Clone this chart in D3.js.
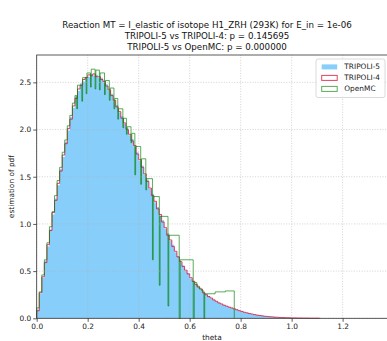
<!DOCTYPE html>
<html><head><meta charset="utf-8">
<script src="https://cdn.jsdelivr.net/npm/d3@7"></script>
<style>body{margin:0;background:#fff}svg{display:block;font-family:"DejaVu Sans",sans-serif}</style>
</head><body>
<script>
const titleLines = ["Reaction MT = I_elastic of isotope H1_ZRH (293K) for E_in = 1e-06",
  "TRIPOLI-5 vs TRIPOLI-4: p = 0.145695",
  "TRIPOLI-5 vs OpenMC: p = 0.000000"];
const seriesNames = ["TRIPOLI-5", "TRIPOLI-4", "OpenMC"];
const xTicks = [0.0, 0.2, 0.4, 0.6, 0.8, 1.0, 1.2];
const yTicks = [0.0, 0.5, 1.0, 1.5, 2.0, 2.5];
const binWidth = 0.01;
const t5Values = [0.09,0.26,0.43,0.61,0.76,0.94,1.10,1.27,1.41,1.58,1.71,1.87,1.99,2.13,2.23,2.35,2.41,2.49,2.51,2.56,
 2.56,2.59,2.57,2.58,2.55,2.55,2.50,2.48,2.41,2.38,2.30,2.26,2.18,2.14,2.06,2.02,1.94,1.90,1.82,1.76,
 1.67,1.62,1.52,1.47,1.37,1.32,1.23,1.18,1.09,1.04,0.95,0.90,0.82,0.78,0.70,0.66,0.59,0.56,0.50,0.48,
 0.42,0.40,0.36,0.33,0.30,0.28,0.25,0.235,0.21,0.197,0.178,0.166,0.150,0.141,0.128,0.121,0.109,0.101,0.090,0.082,
 0.072,0.065,0.057,0.051,0.044,0.040,0.034,0.031,0.026,0.023,0.020,0.017,0.015,0.013,0.011,0.009,0.008,0.007,0.006,0.005,
 0.004,0.004,0.003,0.003,0.002,0.002,0.002,0.001,0.001,0.001,0.001];
const t4Values = [0.08,0.27,0.44,0.59,0.78,0.93,1.12,1.25,1.43,1.56,1.73,1.85,2.01,2.11,2.25,2.33,2.43,2.47,2.53,2.55,
 2.58,2.57,2.59,2.56,2.56,2.53,2.51,2.46,2.42,2.36,2.31,2.24,2.19,2.12,2.07,2.00,1.95,1.88,1.83,1.74,
 1.68,1.60,1.53,1.45,1.38,1.30,1.24,1.16,1.10,1.02,0.96,0.88,0.83,0.76,0.71,0.65,0.60,0.55,0.51,0.47,
 0.43,0.39,0.36,0.33,0.31,0.27,0.25,0.23,0.215,0.195,0.18,0.163,0.152,0.139,0.129,0.119,0.110,0.100,0.091,0.081,
 0.073,0.064,0.058,0.050,0.045,0.039,0.034,0.030,0.026,0.022,0.020,0.017,0.015,0.012,0.011,0.009,0.008,0.007,0.006,0.005,
 0.004,0.004,0.003,0.003,0.002,0.002,0.002,0.001,0.001,0.001,0.001];
const openmcEdges = [0,0.01,0.02,0.03,0.04,0.05,0.06,0.07,0.08,0.09,0.10,0.11,0.12,0.13,0.14,
 0.150,0.157,0.160,0.177,0.180,0.194,0.197,0.211,0.214,0.229,0.232,0.246,0.249,0.266,0.269,0.285,0.288,0.303,0.306,0.318,
 0.321,0.338,0.341,0.352,0.355,0.370,0.373,0.385,0.388,0.408,0.411,0.428,0.431,0.454,0.457,0.481,0.484,0.515,0.518,0.559,
 0.563,0.614,0.618,0.628,0.638,0.648,0.656,0.659,0.700,0.740,0.775];
const openmcValues = [0.11,0.28,0.46,0.62,0.80,0.97,1.13,1.30,1.46,1.60,1.76,1.89,2.04,2.15,2.28,
 2.36,2.22,2.47,2.30,2.55,2.38,2.60,2.45,2.64,2.43,2.63,2.42,2.60,2.37,2.52,2.31,2.44,2.22,2.33,2.11,
 2.22,2.02,2.12,1.95,2.03,1.86,1.96,1.52,1.82,1.42,1.69,1.36,1.48,0.62,1.29,0.35,1.08,0.13,0.88,0.00,
 0.62,0.00,0.38,0.34,0.31,0.29,0.00,0.26,0.28,0.29];

const W = 387, H = 341;
const svg = d3.select("body").append("svg").attr("width", W).attr("height", H);
const x = d3.scaleLinear().domain([0, 1.378]).range([36.7, 388]);
const y = d3.scaleLinear().domain([0, 2.79]).range([318.3, 55]);

function stepPoints(edges, vals) {
  const pts = [[edges[0], 0]];
  vals.forEach((v, i) => pts.push([edges[i], v]));
  pts.push([edges[vals.length], 0]);
  return pts;
}
const uniformEdges = n => d3.range(n + 1).map(i => +(i * binWidth).toFixed(4));
const line = d3.line().x(d => x(d[0])).y(d => y(d[1])).curve(d3.curveStepAfter);
const area = d3.area().x(d => x(d[0])).y0(y(0)).y1(d => y(d[1])).curve(d3.curveStepAfter);

const plot = svg.append("g");
plot.append("path").datum(stepPoints(uniformEdges(t5Values.length), t5Values))
  .attr("d", area).attr("fill", "#87cefa");
plot.append("path").datum(stepPoints(uniformEdges(t4Values.length), t4Values))
  .attr("d", line).attr("fill", "none").attr("stroke", "#dc143c").attr("stroke-opacity", 0.8).attr("stroke-width", 1);
plot.append("path").datum(stepPoints(openmcEdges, openmcValues))
  .attr("d", line).attr("fill", "none").attr("stroke", "green").attr("stroke-opacity", 0.65).attr("stroke-width", 1);

// grid
const grid = svg.append("g").attr("stroke", "#b0b0b0").attr("stroke-width", 0.8).attr("stroke-dasharray", "1,1.6").attr("stroke-opacity", 0.7);
xTicks.forEach(t => grid.append("line").attr("x1", x(t)).attr("x2", x(t)).attr("y1", y.range()[0]).attr("y2", y.range()[1]));
yTicks.forEach(t => grid.append("line").attr("x1", x.range()[0]).attr("x2", x.range()[1]).attr("y1", y(t)).attr("y2", y(t)));

// axes
const xAxis = svg.append("g").attr("transform", `translate(0,${y(0)})`)
  .call(d3.axisBottom(x).tickValues(xTicks).tickFormat(d3.format(".1f")).tickSize(3.5).tickPadding(2));
const yAxis = svg.append("g").attr("transform", `translate(${x(0)},0)`)
  .call(d3.axisLeft(y).tickValues(yTicks).tickFormat(d3.format(".1f")).tickSize(3.5).tickPadding(2));
[xAxis, yAxis].forEach(a => {
  a.select(".domain").remove();
  a.selectAll("text").attr("font-size", 7.4).attr("font-family", "DejaVu Sans").attr("fill", "#222");
  a.selectAll("line").attr("stroke", "#333").attr("stroke-width", 0.8);
});
// spines
svg.append("rect").attr("x", x.range()[0]).attr("y", y.range()[1])
  .attr("width", x.range()[1] - x.range()[0]).attr("height", y.range()[0] - y.range()[1])
  .attr("fill", "none").attr("stroke", "#333").attr("stroke-width", 0.8);

// titles
const tt = svg.append("g").attr("font-size", 8.7).attr("fill", "#111").attr("text-anchor", "middle");
titleLines.forEach((s, i) => tt.append("text").attr("x", 207).attr("y", 28.3 + i * 10.8).text(s));
svg.append("text").attr("x", 212).attr("y", 339.5).attr("text-anchor", "middle").attr("font-size", 7.4).attr("fill", "#222").text("theta");
svg.append("text").attr("transform", `translate(13.5,${(y.range()[0] + y.range()[1]) / 2}) rotate(-90)`)
  .attr("text-anchor", "middle").attr("font-size", 7.4).attr("fill", "#222").text("estimation of pdf");

// legend
const lg = svg.append("g").attr("transform", "translate(316,59)");
lg.append("rect").attr("width", 69).attr("height", 38.5).attr("rx", 2).attr("fill", "#fff").attr("fill-opacity", 0.8)
  .attr("stroke", "#d0d0d0").attr("stroke-width", 0.8);
const styles = [
  {fill: "#87cefa", stroke: "none", op: 1},
  {fill: "none", stroke: "#dc143c", op: 0.8},
  {fill: "none", stroke: "green", op: 0.65}];
seriesNames.forEach((n, i) => {
  const gy = 7.7 + i * 11;
  lg.append("rect").attr("x", 5.7).attr("y", gy - 2.3).attr("width", 15.5).attr("height", 5)
    .attr("fill", styles[i].fill).attr("stroke", styles[i].stroke).attr("stroke-opacity", styles[i].op).attr("stroke-width", 1);
  lg.append("text").attr("x", 28.3).attr("y", gy + 2.6).attr("font-size", 7.4).attr("fill", "#222").text(n);
});
</script>
</body></html>
